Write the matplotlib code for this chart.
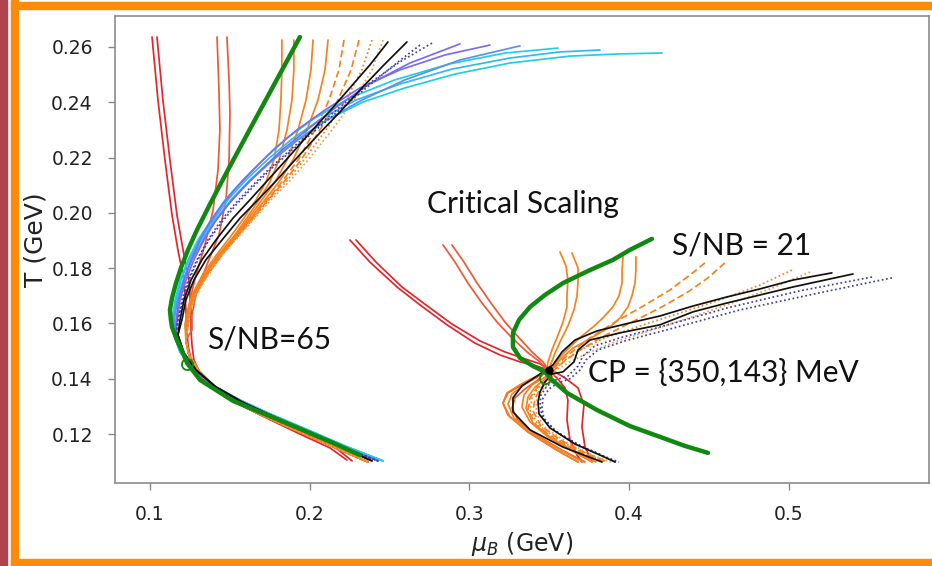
import matplotlib
matplotlib.use("Agg")
import matplotlib.pyplot as plt
from matplotlib.patches import Rectangle

# ---------------- left bundle (S/NB = 65) ----------------
# mu_B (GeV), T (GeV); upper branches run from the top down to the turning point
red1_mu = [0.1013, 0.1050, 0.1094, 0.1138, 0.1175, 0.1213, 0.1225, 0.1232]
red2_mu = [0.1044, 0.1081, 0.1125, 0.1169, 0.1207, 0.1244, 0.1257, 0.1257]
red_T = [0.2636, 0.2408, 0.2191, 0.1992, 0.1866, 0.1757, 0.1649, 0.1576]
lowred1_mu = [0.1238, 0.1257, 0.1300, 0.1388, 0.1514, 0.1701, 0.1939, 0.2127, 0.2233]
lowred1_T = [0.1522, 0.1468, 0.1417, 0.1367, 0.1320, 0.1266, 0.1200, 0.1150, 0.1106]
lowred2_mu = [0.1263, 0.1275, 0.1313, 0.1401, 0.1526, 0.1714, 0.1958, 0.2158, 0.2265]
lowred2_T = [0.1522, 0.1468, 0.1421, 0.1370, 0.1323, 0.1269, 0.1204, 0.1153, 0.1103]

redor1_mu = [0.1420, 0.1432, 0.1438, 0.1426, 0.1395, 0.1344, 0.1288, 0.1250, 0.1238]
redor1_T = [0.2636, 0.2444, 0.2300, 0.2155, 0.2010, 0.1884, 0.1775, 0.1685, 0.1595]
redor2_mu = [0.1482, 0.1495, 0.1501, 0.1495, 0.1476, 0.1432, 0.1363, 0.1294, 0.1263, 0.1263]
redor2_T = [0.2636, 0.2481, 0.2361, 0.2191, 0.2047, 0.1920, 0.1822, 0.1721, 0.1631, 0.1576]

or_T = [0.2625, 0.2517, 0.2408, 0.2300, 0.2191, 0.2112, 0.2047, 0.1982, 0.1916, 0.1851, 0.1779, 0.1703, 0.1642, 0.1595]
or1_mu = [0.1826, 0.1826, 0.1820, 0.1808, 0.1776, 0.1726, 0.1664, 0.1589, 0.1507, 0.1420, 0.1332, 0.1263, 0.1232, 0.1219]
or2_mu = [0.1901, 0.1901, 0.1889, 0.1858, 0.1808, 0.1751, 0.1683, 0.1607, 0.1526, 0.1432, 0.1344, 0.1269, 0.1238, 0.1225]
or3_mu = [0.2021, 0.2008, 0.1977, 0.1927, 0.1858, 0.1783, 0.1701, 0.1620, 0.1532, 0.1438, 0.1350, 0.1275, 0.1238, 0.1232]
or4_mu = [0.2115, 0.2096, 0.2052, 0.1983, 0.1895, 0.1808, 0.1720, 0.1632, 0.1539, 0.1445, 0.1357, 0.1275, 0.1244, 0.1232]
or5_mu = [0.2215, 0.2183, 0.2121, 0.2033, 0.1927, 0.1826, 0.1733, 0.1639, 0.1545, 0.1451, 0.1357, 0.1282, 0.1244, 0.1232]
or6_mu = [0.2309, 0.2259, 0.2177, 0.2064, 0.1946, 0.1839, 0.1739, 0.1645, 0.1551, 0.1451, 0.1363, 0.1282, 0.1244, 0.1238]
or7_mu = [0.2390, 0.2327, 0.2227, 0.2102, 0.1964, 0.1852, 0.1745, 0.1651, 0.1551, 0.1457, 0.1363, 0.1288, 0.1250, 0.1238]
or8_mu = [0.2459, 0.2390, 0.2277, 0.2140, 0.1990, 0.1870, 0.1758, 0.1657, 0.1557, 0.1457, 0.1369, 0.1288, 0.1250, 0.1238]
lowor_mu = [0.1225, 0.1244, 0.1307, 0.1432, 0.1607, 0.1795, 0.2008, 0.2221, 0.2365]
lowor_T = [0.1540, 0.1486, 0.1428, 0.1356, 0.1294, 0.1244, 0.1190, 0.1135, 0.1099]

blk_T = [0.2618, 0.2535, 0.2452, 0.2365, 0.2282, 0.2199, 0.2119, 0.2047, 0.1981, 0.1902, 0.1830, 0.1757, 0.1685, 0.1613]
blk1_mu = [0.2490, 0.2377, 0.2252, 0.2121, 0.1990, 0.1864, 0.1739, 0.1626, 0.1520, 0.1413, 0.1325, 0.1257, 0.1213, 0.1188]
blk2_mu = [0.2609, 0.2465, 0.2327, 0.2190, 0.2052, 0.1920, 0.1795, 0.1676, 0.1564, 0.1451, 0.1350, 0.1275, 0.1225, 0.1200]
lowblk_mu = [0.1175, 0.1213, 0.1288, 0.1413, 0.1589, 0.1776, 0.1990, 0.2221, 0.2390]
lowblk_T = [0.1558, 0.1493, 0.1432, 0.1370, 0.1312, 0.1262, 0.1207, 0.1146, 0.1103]

blu1_mu = [0.3129, 0.2847, 0.2565, 0.2315, 0.2096, 0.1920, 0.1770, 0.1645, 0.1539, 0.1451, 0.1376, 0.1313, 0.1257, 0.1213, 0.1182, 0.1163]
blu1_T = [0.2607, 0.2571, 0.2517, 0.2452, 0.2372, 0.2300, 0.2227, 0.2155, 0.2090, 0.2029, 0.1967, 0.1902, 0.1830, 0.1757, 0.1685, 0.1613]
blu2_mu = [0.2941, 0.2628, 0.2365, 0.2158, 0.1983, 0.1826, 0.1695, 0.1582, 0.1488, 0.1407, 0.1338, 0.1275, 0.1225, 0.1188, 0.1169]
blu2_T = [0.2611, 0.2542, 0.2463, 0.2379, 0.2300, 0.2227, 0.2155, 0.2090, 0.2029, 0.1967, 0.1902, 0.1830, 0.1757, 0.1685, 0.1613]
dblu1_mu = [0.2766, 0.2565, 0.2377, 0.2190, 0.2021, 0.1877, 0.1739, 0.1626, 0.1526, 0.1438, 0.1363, 0.1294, 0.1238, 0.1200, 0.1175]
dblu1_T = [0.2614, 0.2546, 0.2470, 0.2383, 0.2300, 0.2227, 0.2155, 0.2090, 0.2029, 0.1967, 0.1902, 0.1830, 0.1757, 0.1685, 0.1613]
dblu2_mu = [0.2691, 0.2553, 0.2377, 0.2202, 0.2039, 0.1889, 0.1751, 0.1639, 0.1539, 0.1451, 0.1369, 0.1300, 0.1244, 0.1207, 0.1175]
dblu2_T = [0.2607, 0.2546, 0.2463, 0.2379, 0.2300, 0.2227, 0.2155, 0.2090, 0.2029, 0.1967, 0.1902, 0.1830, 0.1757, 0.1685, 0.1613]
az_mu = [0.3317, 0.2941, 0.2597, 0.2327, 0.2108, 0.1927, 0.1770, 0.1632, 0.1514, 0.1413, 0.1332, 0.1263, 0.1213, 0.1175, 0.1150]
az_T = [0.2604, 0.2553, 0.2481, 0.2408, 0.2336, 0.2264, 0.2191, 0.2119, 0.2047, 0.1974, 0.1902, 0.1830, 0.1757, 0.1685, 0.1613]
lowblu_mu = [0.1163, 0.1200, 0.1275, 0.1401, 0.1576, 0.1764, 0.1977, 0.2221, 0.2428]
lowblu_T = [0.1558, 0.1497, 0.1435, 0.1374, 0.1316, 0.1266, 0.1211, 0.1150, 0.1103]

cy1_mu = [0.4206, 0.3943, 0.3630, 0.3254, 0.2910, 0.2597, 0.2334, 0.2108, 0.1920, 0.1764, 0.1626, 0.1507, 0.1407, 0.1319, 0.1257, 0.1207, 0.1169, 0.1150]
cy1_T = [0.2578, 0.2575, 0.2567, 0.2542, 0.2502, 0.2452, 0.2401, 0.2336, 0.2264, 0.2191, 0.2119, 0.2047, 0.1974, 0.1902, 0.1830, 0.1757, 0.1685, 0.1613]
cy2_mu = [0.3818, 0.3567, 0.3254, 0.2891, 0.2565, 0.2290, 0.2071, 0.1889, 0.1733, 0.1601, 0.1488, 0.1395, 0.1307, 0.1244, 0.1194, 0.1163, 0.1144]
cy2_T = [0.2589, 0.2582, 0.2560, 0.2520, 0.2466, 0.2408, 0.2340, 0.2267, 0.2191, 0.2119, 0.2047, 0.1974, 0.1902, 0.1830, 0.1757, 0.1685, 0.1613]
cy3_mu = [0.3555, 0.3223, 0.2878, 0.2534, 0.2252, 0.2033, 0.1858, 0.1707, 0.1582, 0.1470, 0.1382, 0.1300, 0.1238, 0.1188, 0.1157, 0.1138]
cy3_T = [0.2596, 0.2578, 0.2539, 0.2481, 0.2416, 0.2343, 0.2271, 0.2191, 0.2119, 0.2047, 0.1974, 0.1902, 0.1830, 0.1757, 0.1685, 0.1613]
lowcy_mu = [0.1150, 0.1188, 0.1263, 0.1388, 0.1564, 0.1751, 0.1971, 0.2221, 0.2459]
lowcy_T = [0.1558, 0.1497, 0.1439, 0.1378, 0.1323, 0.1273, 0.1219, 0.1157, 0.1103]

green65_mu = [0.1939, 0.1783, 0.1626, 0.1488, 0.1376, 0.1294, 0.1238, 0.1194, 0.1163, 0.1138, 0.1125,
              0.1131, 0.1138, 0.1169, 0.1207, 0.1232, 0.1313, 0.1520, 0.1733, 0.1939, 0.2146, 0.2315]
green65_T = [0.2636, 0.2470, 0.2303, 0.2155, 0.2032, 0.1938, 0.1866, 0.1801, 0.1746, 0.1692, 0.1649,
             0.1613, 0.1587, 0.1540, 0.1493, 0.1457, 0.1396, 0.1320, 0.1269, 0.1219, 0.1168, 0.1124]
ring65 = (0.1232, 0.1454)

# ---------------- right bundle (critical scaling, S/NB = 21) ----------------
rr1_mu = [0.2252, 0.2377, 0.2547, 0.2691, 0.2860, 0.3035, 0.3192, 0.3317, 0.3423, 0.3492, 0.3548, 0.3599, 0.3617, 0.3611, 0.3630, 0.3674, 0.3705]
rr1_T = [0.1902, 0.1822, 0.1732, 0.1667, 0.1595, 0.1529, 0.1486, 0.1461, 0.1446, 0.1432, 0.1403, 0.1367, 0.1323, 0.1251, 0.1179, 0.1124, 0.1099]
rr2_mu = [0.2290, 0.2415, 0.2578, 0.2728, 0.2891, 0.3066, 0.3223, 0.3348, 0.3442, 0.3505, 0.3599, 0.3680, 0.3717, 0.3705, 0.3724, 0.3768]
rr2_T = [0.1902, 0.1822, 0.1732, 0.1667, 0.1598, 0.1537, 0.1497, 0.1472, 0.1454, 0.1435, 0.1403, 0.1367, 0.1305, 0.1226, 0.1153, 0.1099]
ro1_mu = [0.2835, 0.2910, 0.2991, 0.3079, 0.3173, 0.3267, 0.3361, 0.3442, 0.3480, 0.3411, 0.3317, 0.3242, 0.3210, 0.3242, 0.3367, 0.3536, 0.3680]
ro1_T = [0.1884, 0.1822, 0.1746, 0.1674, 0.1605, 0.1548, 0.1497, 0.1461, 0.1432, 0.1403, 0.1374, 0.1349, 0.1312, 0.1269, 0.1207, 0.1146, 0.1099]
ro2_mu = [0.2891, 0.2966, 0.3048, 0.3135, 0.3223, 0.3311, 0.3392, 0.3461, 0.3492, 0.3430, 0.3348, 0.3286, 0.3267, 0.3304, 0.3417, 0.3580, 0.3724]
ro2_T = [0.1884, 0.1822, 0.1746, 0.1674, 0.1605, 0.1548, 0.1497, 0.1461, 0.1435, 0.1396, 0.1363, 0.1331, 0.1294, 0.1251, 0.1197, 0.1142, 0.1099]

u1_mu = [0.3567, 0.3605, 0.3617, 0.3611, 0.3611, 0.3586, 0.3555, 0.3517, 0.3492, 0.3486, 0.3461, 0.3336, 0.3235, 0.3210, 0.3254, 0.3380, 0.3548, 0.3680]
u1_T = [0.1859, 0.1808, 0.1757, 0.1703, 0.1660, 0.1605, 0.1558, 0.1504, 0.1461, 0.1439, 0.1421, 0.1385, 0.1349, 0.1312, 0.1262, 0.1204, 0.1142, 0.1099]
u2_mu = [0.3642, 0.3680, 0.3680, 0.3674, 0.3655, 0.3617, 0.3573, 0.3536, 0.3511, 0.3498, 0.3461, 0.3348, 0.3267, 0.3242, 0.3279, 0.3405, 0.3573, 0.3711]
u2_T = [0.1855, 0.1801, 0.1750, 0.1700, 0.1649, 0.1591, 0.1540, 0.1493, 0.1454, 0.1435, 0.1417, 0.1381, 0.1345, 0.1309, 0.1258, 0.1200, 0.1142, 0.1099]
u3_mu = [0.3962, 0.3956, 0.3956, 0.3937, 0.3899, 0.3836, 0.3774, 0.3705, 0.3649, 0.3586, 0.3542, 0.3511, 0.3486, 0.3392, 0.3342, 0.3329, 0.3380, 0.3492, 0.3642, 0.3768]
u3_T = [0.1841, 0.1793, 0.1746, 0.1700, 0.1660, 0.1620, 0.1587, 0.1555, 0.1526, 0.1490, 0.1461, 0.1439, 0.1410, 0.1378, 0.1341, 0.1298, 0.1244, 0.1190, 0.1139, 0.1099]
u4_mu = [0.4043, 0.4043, 0.4037, 0.4018, 0.3993, 0.3943, 0.3880, 0.3805, 0.3730, 0.3649, 0.3592, 0.3555, 0.3517, 0.3492, 0.3411, 0.3367, 0.3355, 0.3398, 0.3511, 0.3667, 0.3793]
u4_T = [0.1841, 0.1793, 0.1746, 0.1700, 0.1660, 0.1620, 0.1587, 0.1562, 0.1537, 0.1511, 0.1482, 0.1461, 0.1435, 0.1407, 0.1370, 0.1334, 0.1294, 0.1240, 0.1186, 0.1135, 0.1099]
d1_mu = [0.4475, 0.4381, 0.4256, 0.4100, 0.3912, 0.3755, 0.3642, 0.3567, 0.3523, 0.3498, 0.3423, 0.3380, 0.3367, 0.3417, 0.3542, 0.3705, 0.3843]
d1_T = [0.1819, 0.1775, 0.1721, 0.1667, 0.1605, 0.1548, 0.1497, 0.1461, 0.1435, 0.1403, 0.1367, 0.1331, 0.1287, 0.1233, 0.1179, 0.1132, 0.1099]
d2_mu = [0.4600, 0.4494, 0.4369, 0.4206, 0.4018, 0.3830, 0.3693, 0.3605, 0.3536, 0.3511, 0.3442, 0.3411, 0.3398, 0.3448, 0.3580, 0.3743, 0.3868]
d2_T = [0.1819, 0.1765, 0.1714, 0.1660, 0.1605, 0.1551, 0.1504, 0.1468, 0.1435, 0.1400, 0.1363, 0.1327, 0.1284, 0.1229, 0.1175, 0.1128, 0.1099]
do1_mu = [0.5020, 0.4820, 0.4569, 0.4319, 0.4068, 0.3849, 0.3693, 0.3599, 0.3536, 0.3505, 0.3430, 0.3392, 0.3380, 0.3430, 0.3555, 0.3724, 0.3855]
do1_T = [0.1793, 0.1739, 0.1685, 0.1638, 0.1591, 0.1548, 0.1504, 0.1468, 0.1435, 0.1403, 0.1367, 0.1331, 0.1287, 0.1233, 0.1179, 0.1128, 0.1099]
do2_mu = [0.5133, 0.4914, 0.4663, 0.4413, 0.4162, 0.3930, 0.3755, 0.3630, 0.3542, 0.3517, 0.3455, 0.3423, 0.3417, 0.3467, 0.3605, 0.3768, 0.3886]
do2_T = [0.1786, 0.1732, 0.1678, 0.1627, 0.1580, 0.1537, 0.1497, 0.1461, 0.1432, 0.1396, 0.1359, 0.1323, 0.1280, 0.1226, 0.1172, 0.1124, 0.1099]
kr1_mu = [0.5270, 0.5026, 0.4820, 0.4613, 0.4400, 0.4193, 0.4005, 0.3799, 0.3661, 0.3580, 0.3523, 0.3442, 0.3329, 0.3273, 0.3273, 0.3380, 0.3586, 0.3830]
kr1_T = [0.1783, 0.1757, 0.1725, 0.1696, 0.1663, 0.1627, 0.1602, 0.1573, 0.1540, 0.1497, 0.1450, 0.1417, 0.1374, 0.1331, 0.1280, 0.1215, 0.1153, 0.1099]
kr2_mu = [0.5402, 0.5026, 0.4613, 0.4400, 0.4193, 0.3943, 0.3755, 0.3680, 0.3655, 0.3586, 0.3517, 0.3473, 0.3442, 0.3430, 0.3436, 0.3505, 0.3661, 0.3818, 0.3912]
kr2_T = [0.1779, 0.1732, 0.1674, 0.1642, 0.1595, 0.1566, 0.1540, 0.1504, 0.1461, 0.1425, 0.1417, 0.1388, 0.1352, 0.1316, 0.1273, 0.1222, 0.1164, 0.1124, 0.1099]
br1_mu = [0.5521, 0.5070, 0.4613, 0.4193, 0.3943, 0.3786, 0.3711, 0.3680, 0.3617, 0.3542, 0.3486, 0.3448, 0.3442, 0.3455, 0.3530, 0.3680, 0.3836, 0.3918]
br1_T = [0.1768, 0.1718, 0.1656, 0.1587, 0.1548, 0.1519, 0.1482, 0.1446, 0.1410, 0.1396, 0.1374, 0.1341, 0.1305, 0.1266, 0.1215, 0.1161, 0.1121, 0.1099]
br2_mu = [0.5646, 0.5195, 0.4694, 0.4256, 0.3974, 0.3805, 0.3730, 0.3693, 0.3630, 0.3555, 0.3498, 0.3461, 0.3455, 0.3467, 0.3548, 0.3699, 0.3855, 0.3937]
br2_T = [0.1765, 0.1711, 0.1649, 0.1580, 0.1537, 0.1504, 0.1468, 0.1432, 0.1400, 0.1385, 0.1363, 0.1331, 0.1294, 0.1255, 0.1207, 0.1157, 0.1117, 0.1099]

green21_mu = [0.4143, 0.4005, 0.3899, 0.3743, 0.3586, 0.3473, 0.3380, 0.3311, 0.3273, 0.3273,
              0.3317, 0.3398, 0.3473, 0.3517, 0.3611, 0.3799, 0.4005, 0.4193, 0.4350, 0.4494]
green21_T = [0.1906, 0.1866, 0.1830, 0.1790, 0.1746, 0.1703, 0.1660, 0.1613, 0.1566, 0.1515,
             0.1475, 0.1446, 0.1425, 0.1396, 0.1349, 0.1287, 0.1229, 0.1190, 0.1157, 0.1132]
ring21 = (0.3473, 0.1403)
cp = (0.350, 0.143)

xticks = [0.1, 0.2, 0.3, 0.4, 0.5]
yticks = [0.12, 0.14, 0.16, 0.18, 0.20, 0.22, 0.24, 0.26]

# colours
RED = "#e5252b"
REDOR = "#ea5a35"
ORANGE = "#f5821f"
TAN = "#e9a04c"
BLACK = "#111111"
PURPLE = "#7b6cf0"
DBLUE = "#3f3fa8"
AZURE = "#5b8ff0"
CYAN = "#1ecfe6"
CYAN2 = "#33b9ee"
GREEN = "#118811"

dashed = (0, (4, 2))
dotted = (0, (1, 1.5))

fig = plt.figure(figsize=(9.32, 5.66), dpi=100)
ax = fig.add_axes([115 / 932, 1 - 483 / 566, (929 - 115) / 932, (483 - 16) / 566])

lw = 1.25
# left bundle
left_curves = [
    (red1_mu + lowred1_mu, red_T + lowred1_T, RED, "-"),
    (red2_mu + lowred2_mu, red_T + lowred2_T, RED, "-"),
    (redor1_mu + lowor_mu, redor1_T + lowor_T, REDOR, "-"),
    (redor2_mu + lowor_mu, redor2_T + lowor_T, REDOR, "-"),
    (or1_mu + lowor_mu, or_T + lowor_T, ORANGE, "-"),
    (or2_mu + lowor_mu, or_T + lowor_T, ORANGE, "-"),
    (or3_mu + lowor_mu, or_T + lowor_T, ORANGE, "-"),
    (or4_mu + lowor_mu, or_T + lowor_T, ORANGE, "-"),
    (or5_mu + lowor_mu, or_T + lowor_T, ORANGE, dashed),
    (or6_mu + lowor_mu, or_T + lowor_T, ORANGE, dashed),
    (or7_mu + lowor_mu, or_T + lowor_T, ORANGE, dotted),
    (or8_mu + lowor_mu, or_T + lowor_T, TAN, dotted),
    (cy1_mu + lowcy_mu, cy1_T + lowcy_T, CYAN, "-"),
    (cy2_mu + lowcy_mu, cy2_T + lowcy_T, CYAN2, "-"),
    (cy3_mu + lowcy_mu, cy3_T + lowcy_T, CYAN, "-"),
    (az_mu + lowblu_mu, az_T + lowblu_T, AZURE, "-"),
    (blu1_mu + lowblu_mu, blu1_T + lowblu_T, PURPLE, "-"),
    (blu2_mu + lowblu_mu, blu2_T + lowblu_T, PURPLE, "-"),
    (dblu1_mu + lowblu_mu, dblu1_T + lowblu_T, DBLUE, dotted),
    (dblu2_mu + lowblu_mu, dblu2_T + lowblu_T, DBLUE, dotted),
    (blk1_mu + lowblk_mu, blk_T + lowblk_T, BLACK, "-"),
    (blk2_mu + lowblk_mu, blk_T + lowblk_T, BLACK, "-"),
]
right_curves = [
    (rr1_mu, rr1_T, RED, "-"),
    (rr2_mu, rr2_T, RED, "-"),
    (ro1_mu, ro1_T, REDOR, "-"),
    (ro2_mu, ro2_T, REDOR, "-"),
    (u1_mu, u1_T, ORANGE, "-"),
    (u2_mu, u2_T, ORANGE, "-"),
    (u3_mu, u3_T, ORANGE, "-"),
    (u4_mu, u4_T, ORANGE, "-"),
    (d1_mu, d1_T, ORANGE, dashed),
    (d2_mu, d2_T, ORANGE, dashed),
    (do1_mu, do1_T, ORANGE, dotted),
    (do2_mu, do2_T, TAN, dotted),
    (br1_mu, br1_T, DBLUE, dotted),
    (br2_mu, br2_T, DBLUE, dotted),
    (kr1_mu, kr1_T, BLACK, "-"),
    (kr2_mu, kr2_T, BLACK, "-"),
]
for xs, ys, c, ls in left_curves + right_curves:
    ax.plot(xs, ys, color=c, lw=lw, ls=ls, solid_capstyle="round")

ax.plot(green65_mu, green65_T, color=GREEN, lw=3.2, solid_capstyle="round", zorder=5)
ax.plot(green21_mu, green21_T, color=GREEN, lw=3.2, solid_capstyle="round", zorder=5)
ax.plot(*ring65, marker="o", ms=8, mfc="none", mec=GREEN, mew=1.3, zorder=6)
ax.plot(*ring21, marker="o", ms=8, mfc="none", mec=GREEN, mew=1.3, zorder=6)
ax.plot(*cp, marker="o", ms=5, color="black", zorder=7)

txt = dict(family=["Lato", "DejaVu Sans"], fontsize=21.5, color="#111111")
ax.text(0.2734, 0.1999, "Critical Scaling", **txt)
ax.text(0.4269, 0.1848, "S/NB = 21", **txt)
ax.text(0.1357, 0.1511, "S/NB=65", **txt)
ax.text(0.3743, 0.1388, "CP = {350,143} MeV", **txt)

ax.set_xlim(0.0781, 0.5878)
ax.set_ylim(0.1023, 0.2712)
ax.set_xticks(xticks)
ax.set_xticklabels(["0.1", "0.2", "0.3", "0.4", "0.5"])
ax.set_yticks(yticks)
ax.set_yticklabels([f"{v:.2f}" for v in yticks])
ax.tick_params(length=5, width=1, color="#888888", labelsize=13.5, labelcolor="#222222", pad=11)
for s in ax.spines.values():
    s.set_color("#8c8c8c")
    s.set_linewidth(1.2)
ax.set_xlabel(r"$\mu_B$ (GeV)", fontsize=17, labelpad=4, color="#222222")
ax.set_ylabel("T (GeV)", fontsize=18, color="#222222")
ax.yaxis.set_label_coords(-0.083, 0.52)

# slide frame
fig.patches.append(Rectangle((0, 0), 7 / 932, 1, transform=fig.transFigure, color="#b3434a", zorder=0))
fig.patches.append(Rectangle((11 / 932, 0), 7 / 932, 1, transform=fig.transFigure, color="#fb8c0a", zorder=0))
fig.patches.append(Rectangle((11 / 932, 1 - 9 / 566), 921 / 932, 7 / 566, transform=fig.transFigure, color="#fb8c0a", zorder=0))
fig.patches.append(Rectangle((11 / 932, 0), 921 / 932, 7 / 566, transform=fig.transFigure, color="#fb8c0a", zorder=0))

fig.savefig("out.png", dpi=100)
